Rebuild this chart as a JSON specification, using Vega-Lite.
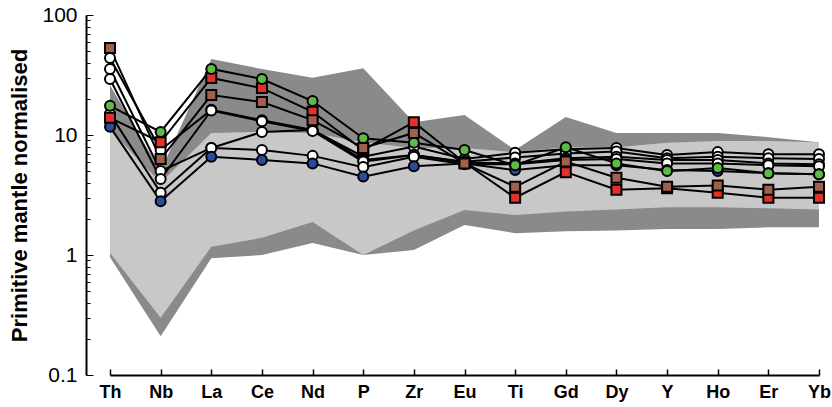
{
  "$schema": "https://vega.github.io/schema/vega-lite/v6.json",
  "width": 746,
  "height": 360,
  "autosize": "none",
  "padding": {"left": 86, "top": 15, "right": 0, "bottom": 32},
  "background": "white",
  "config": {"view": {"stroke": null}, "font": "Liberation Sans"},
  "datasets": {
    "envelope": [
      {"element": "Th", "dark_lo": 0.96, "dark_hi": 26, "light_lo": 1.04, "light_hi": 11},
      {"element": "Nb", "dark_lo": 0.21, "dark_hi": 5.0, "light_lo": 0.30, "light_hi": 4.0},
      {"element": "La", "dark_lo": 0.94, "dark_hi": 43, "light_lo": 1.17, "light_hi": 10.4},
      {"element": "Ce", "dark_lo": 1.0, "dark_hi": 35.5, "light_lo": 1.39, "light_hi": 10.6},
      {"element": "Nd", "dark_lo": 1.26, "dark_hi": 30, "light_lo": 1.88, "light_hi": 10.4},
      {"element": "P", "dark_lo": 1.0, "dark_hi": 36, "light_lo": 1.0, "light_hi": 8.7},
      {"element": "Zr", "dark_lo": 1.1, "dark_hi": 12.8, "light_lo": 1.6, "light_hi": 7.8},
      {"element": "Eu", "dark_lo": 1.78, "dark_hi": 14.7, "light_lo": 2.37, "light_hi": 7.8},
      {"element": "Ti", "dark_lo": 1.52, "dark_hi": 7.5, "light_lo": 2.15, "light_hi": 7.2},
      {"element": "Gd", "dark_lo": 1.58, "dark_hi": 14.1, "light_lo": 2.3, "light_hi": 7.9},
      {"element": "Dy", "dark_lo": 1.6, "dark_hi": 10.4, "light_lo": 2.4, "light_hi": 7.9},
      {"element": "Y", "dark_lo": 1.65, "dark_hi": 10.4, "light_lo": 2.5, "light_hi": 8.6},
      {"element": "Ho", "dark_lo": 1.65, "dark_hi": 10.4, "light_lo": 2.5, "light_hi": 8.9},
      {"element": "Er", "dark_lo": 1.7, "dark_hi": 9.6, "light_lo": 2.45, "light_hi": 8.9},
      {"element": "Yb", "dark_lo": 1.7, "dark_hi": 8.7, "light_lo": 2.4, "light_hi": 8.7}
    ],
    "series": [
      {"sample": "W1", "type": "white", "element": "Th", "value": 43.8},
      {"sample": "W1", "type": "white", "element": "Nb", "value": 7.5},
      {"sample": "W1", "type": "white", "element": "La", "value": 16.2},
      {"sample": "W1", "type": "white", "element": "Ce", "value": 13.3},
      {"sample": "W1", "type": "white", "element": "Nd", "value": 11.0},
      {"sample": "W1", "type": "white", "element": "P", "value": 6.6},
      {"sample": "W1", "type": "white", "element": "Zr", "value": 8.0},
      {"sample": "W1", "type": "white", "element": "Eu", "value": 6.3},
      {"sample": "W1", "type": "white", "element": "Ti", "value": 7.1},
      {"sample": "W1", "type": "white", "element": "Gd", "value": 7.6},
      {"sample": "W1", "type": "white", "element": "Dy", "value": 7.8},
      {"sample": "W1", "type": "white", "element": "Y", "value": 6.8},
      {"sample": "W1", "type": "white", "element": "Ho", "value": 7.2},
      {"sample": "W1", "type": "white", "element": "Er", "value": 6.9},
      {"sample": "W1", "type": "white", "element": "Yb", "value": 6.9},
      {"sample": "W2", "type": "white", "element": "Th", "value": 35.5},
      {"sample": "W2", "type": "white", "element": "Nb", "value": 5.0},
      {"sample": "W2", "type": "white", "element": "La", "value": 7.8},
      {"sample": "W2", "type": "white", "element": "Ce", "value": 10.6},
      {"sample": "W2", "type": "white", "element": "Nd", "value": 11.0},
      {"sample": "W2", "type": "white", "element": "P", "value": 6.2},
      {"sample": "W2", "type": "white", "element": "Zr", "value": 6.8},
      {"sample": "W2", "type": "white", "element": "Eu", "value": 6.0},
      {"sample": "W2", "type": "white", "element": "Ti", "value": 6.5},
      {"sample": "W2", "type": "white", "element": "Gd", "value": 7.0},
      {"sample": "W2", "type": "white", "element": "Dy", "value": 7.3},
      {"sample": "W2", "type": "white", "element": "Y", "value": 6.4},
      {"sample": "W2", "type": "white", "element": "Ho", "value": 6.6},
      {"sample": "W2", "type": "white", "element": "Er", "value": 6.4},
      {"sample": "W2", "type": "white", "element": "Yb", "value": 6.3},
      {"sample": "W3", "type": "white", "element": "Th", "value": 29.3},
      {"sample": "W3", "type": "white", "element": "Nb", "value": 4.3},
      {"sample": "W3", "type": "white", "element": "La", "value": 16.0},
      {"sample": "W3", "type": "white", "element": "Ce", "value": 13.0},
      {"sample": "W3", "type": "white", "element": "Nd", "value": 10.8},
      {"sample": "W3", "type": "white", "element": "P", "value": 6.0},
      {"sample": "W3", "type": "white", "element": "Zr", "value": 6.8},
      {"sample": "W3", "type": "white", "element": "Eu", "value": 5.9},
      {"sample": "W3", "type": "white", "element": "Ti", "value": 5.8},
      {"sample": "W3", "type": "white", "element": "Gd", "value": 6.4},
      {"sample": "W3", "type": "white", "element": "Dy", "value": 6.6},
      {"sample": "W3", "type": "white", "element": "Y", "value": 6.2},
      {"sample": "W3", "type": "white", "element": "Ho", "value": 6.2},
      {"sample": "W3", "type": "white", "element": "Er", "value": 5.8},
      {"sample": "W3", "type": "white", "element": "Yb", "value": 5.7},
      {"sample": "W4", "type": "white", "element": "Th", "value": 15.0},
      {"sample": "W4", "type": "white", "element": "Nb", "value": 3.3},
      {"sample": "W4", "type": "white", "element": "La", "value": 7.8},
      {"sample": "W4", "type": "white", "element": "Ce", "value": 7.5},
      {"sample": "W4", "type": "white", "element": "Nd", "value": 6.7},
      {"sample": "W4", "type": "white", "element": "P", "value": 5.4},
      {"sample": "W4", "type": "white", "element": "Zr", "value": 6.6},
      {"sample": "W4", "type": "white", "element": "Eu", "value": 5.7},
      {"sample": "W4", "type": "white", "element": "Ti", "value": 5.7},
      {"sample": "W4", "type": "white", "element": "Gd", "value": 6.2},
      {"sample": "W4", "type": "white", "element": "Dy", "value": 6.3},
      {"sample": "W4", "type": "white", "element": "Y", "value": 5.8},
      {"sample": "W4", "type": "white", "element": "Ho", "value": 5.8},
      {"sample": "W4", "type": "white", "element": "Er", "value": 5.6},
      {"sample": "W4", "type": "white", "element": "Yb", "value": 5.5},
      {"sample": "B0", "type": "blue", "element": "Th", "value": 11.7},
      {"sample": "B0", "type": "blue", "element": "Nb", "value": 2.8},
      {"sample": "B0", "type": "blue", "element": "La", "value": 6.6},
      {"sample": "B0", "type": "blue", "element": "Ce", "value": 6.2},
      {"sample": "B0", "type": "blue", "element": "Nd", "value": 5.8},
      {"sample": "B0", "type": "blue", "element": "P", "value": 4.5},
      {"sample": "B0", "type": "blue", "element": "Zr", "value": 5.5},
      {"sample": "B0", "type": "blue", "element": "Eu", "value": 5.8},
      {"sample": "B0", "type": "blue", "element": "Ti", "value": 5.1},
      {"sample": "B0", "type": "blue", "element": "Gd", "value": 5.6},
      {"sample": "B0", "type": "blue", "element": "Dy", "value": 5.6},
      {"sample": "B0", "type": "blue", "element": "Y", "value": 5.1},
      {"sample": "B0", "type": "blue", "element": "Ho", "value": 5.0},
      {"sample": "B0", "type": "blue", "element": "Er", "value": 4.8},
      {"sample": "B0", "type": "blue", "element": "Yb", "value": 4.7},
      {"sample": "R1", "type": "red", "element": "Th", "value": 13.9},
      {"sample": "R1", "type": "red", "element": "Nb", "value": 8.7},
      {"sample": "R1", "type": "red", "element": "La", "value": 29.9},
      {"sample": "R1", "type": "red", "element": "Ce", "value": 24.6},
      {"sample": "R1", "type": "red", "element": "Nd", "value": 15.6},
      {"sample": "R1", "type": "red", "element": "P", "value": 7.5},
      {"sample": "R1", "type": "red", "element": "Zr", "value": 12.8},
      {"sample": "R1", "type": "red", "element": "Eu", "value": 5.9},
      {"sample": "R1", "type": "red", "element": "Ti", "value": 3.0},
      {"sample": "R1", "type": "red", "element": "Gd", "value": 4.9},
      {"sample": "R1", "type": "red", "element": "Dy", "value": 3.5},
      {"sample": "R1", "type": "red", "element": "Y", "value": 3.6},
      {"sample": "R1", "type": "red", "element": "Ho", "value": 3.3},
      {"sample": "R1", "type": "red", "element": "Er", "value": 3.0},
      {"sample": "R1", "type": "red", "element": "Yb", "value": 3.0},
      {"sample": "G1", "type": "green", "element": "Th", "value": 17.5},
      {"sample": "G1", "type": "green", "element": "Nb", "value": 10.6},
      {"sample": "G1", "type": "green", "element": "La", "value": 35.5},
      {"sample": "G1", "type": "green", "element": "Ce", "value": 29.3},
      {"sample": "G1", "type": "green", "element": "Nd", "value": 19.2},
      {"sample": "G1", "type": "green", "element": "P", "value": 9.4},
      {"sample": "G1", "type": "green", "element": "Zr", "value": 8.6},
      {"sample": "G1", "type": "green", "element": "Eu", "value": 7.5},
      {"sample": "G1", "type": "green", "element": "Ti", "value": 5.6},
      {"sample": "G1", "type": "green", "element": "Gd", "value": 7.9},
      {"sample": "G1", "type": "green", "element": "Dy", "value": 5.8},
      {"sample": "G1", "type": "green", "element": "Y", "value": 5.0},
      {"sample": "G1", "type": "green", "element": "Ho", "value": 5.3},
      {"sample": "G1", "type": "green", "element": "Er", "value": 4.8},
      {"sample": "G1", "type": "green", "element": "Yb", "value": 4.7},
      {"sample": "Br1", "type": "brown", "element": "Th", "value": 53},
      {"sample": "Br1", "type": "brown", "element": "Nb", "value": 6.3},
      {"sample": "Br1", "type": "brown", "element": "La", "value": 21.5},
      {"sample": "Br1", "type": "brown", "element": "Ce", "value": 18.8},
      {"sample": "Br1", "type": "brown", "element": "Nd", "value": 13.3},
      {"sample": "Br1", "type": "brown", "element": "P", "value": 7.8},
      {"sample": "Br1", "type": "brown", "element": "Zr", "value": 10.4},
      {"sample": "Br1", "type": "brown", "element": "Eu", "value": 5.8},
      {"sample": "Br1", "type": "brown", "element": "Ti", "value": 3.7},
      {"sample": "Br1", "type": "brown", "element": "Gd", "value": 6.0},
      {"sample": "Br1", "type": "brown", "element": "Dy", "value": 4.4},
      {"sample": "Br1", "type": "brown", "element": "Y", "value": 3.7},
      {"sample": "Br1", "type": "brown", "element": "Ho", "value": 3.8},
      {"sample": "Br1", "type": "brown", "element": "Er", "value": 3.5},
      {"sample": "Br1", "type": "brown", "element": "Yb", "value": 3.7}
    ]
  },
  "encoding": {
    "x": {
      "field": "element",
      "type": "nominal",
      "sort": ["Th", "Nb", "La", "Ce", "Nd", "P", "Zr", "Eu", "Ti", "Gd", "Dy", "Y", "Ho", "Er", "Yb"],
      "scale": {"type": "point", "range": [24, 733], "padding": 0},
      "axis": {
        "title": null,
        "labelAngle": 0,
        "labelFont": "Liberation Sans",
        "labelFontSize": 18,
        "labelFontWeight": "bold",
        "labelColor": "black",
        "labelPadding": 14,
        "tickSize": -6,
        "tickColor": "black",
        "tickWidth": 1.5,
        "domainColor": "black",
        "domainWidth": 2,
        "grid": false
      }
    }
  },
  "layer": [
    {
      "data": {"name": "envelope"},
      "mark": {"type": "area", "color": "#8a8a8a", "opacity": 1},
      "encoding": {
        "y": {
          "field": "dark_lo",
          "type": "quantitative",
          "scale": {"type": "log", "domain": [0.1, 100], "nice": false},
          "axis": {
            "title": "Primitive mantle normalised",
            "titleFont": "Liberation Sans",
            "titleFontSize": 22,
            "titleFontWeight": "bold",
            "titleColor": "black",
            "titlePadding": 10,
            "values": [0.1, 0.2, 0.3, 0.4, 0.5, 0.6, 0.7, 0.8, 0.9, 1, 2, 3, 4, 5, 6, 7, 8, 9, 10, 20, 30, 40, 50, 60, 70, 80, 90, 100],
            "labelExpr": "(datum.value == 0.1 || datum.value == 1 || datum.value == 10 || datum.value == 100) ? format(datum.value, '~g') : ''",
            "labelFont": "Liberation Sans",
            "labelFontSize": 21,
            "labelColor": "black",
            "labelPadding": 16,
            "tickSize": {"condition": {"test": "datum.value == 0.1 || datum.value == 1 || datum.value == 10 || datum.value == 100", "value": -7}, "value": -4},
            "tickColor": "black",
            "tickWidth": 1,
            "domainColor": "black",
            "domainWidth": 2,
            "grid": false
          }
        },
        "y2": {"field": "dark_hi"}
      }
    },
    {
      "data": {"name": "envelope"},
      "mark": {"type": "area", "color": "#c8c8c8", "opacity": 1},
      "encoding": {
        "y": {"field": "light_lo", "type": "quantitative", "axis": {"title": "Primitive mantle normalised"}},
        "y2": {"field": "light_hi"}
      }
    },
    {
      "data": {"name": "series"},
      "mark": {"type": "line", "color": "black", "strokeWidth": 2},
      "encoding": {
        "y": {"field": "value", "type": "quantitative", "axis": {"title": "Primitive mantle normalised"}},
        "detail": {"field": "sample"}
      }
    },
    {
      "data": {"name": "series"},
      "mark": {"type": "point", "filled": true, "stroke": "black", "strokeWidth": 2, "opacity": 1},
      "encoding": {
        "y": {"field": "value", "type": "quantitative", "axis": {"title": "Primitive mantle normalised"}},
        "fill": {
          "field": "type",
          "type": "nominal",
          "scale": {"domain": ["white", "blue", "red", "green", "brown"], "range": ["#ffffff", "#2c4a9e", "#e3302a", "#5cbb44", "#a0604c"]},
          "legend": null
        },
        "shape": {
          "field": "type",
          "type": "nominal",
          "scale": {"domain": ["white", "blue", "red", "green", "brown"], "range": ["circle", "circle", "square", "circle", "square"]},
          "legend": null
        },
        "size": {
          "field": "type",
          "type": "nominal",
          "scale": {"domain": ["white", "blue", "red", "green", "brown"], "range": [100, 100, 170, 130, 190]},
          "legend": null
        }
      }
    },
    {
      "mark": {"type": "rule", "color": "black", "strokeWidth": 2.5},
      "encoding": {"y": {"datum": 100}, "x": {"value": 0}, "x2": {"value": 746}}
    }
  ]
}
